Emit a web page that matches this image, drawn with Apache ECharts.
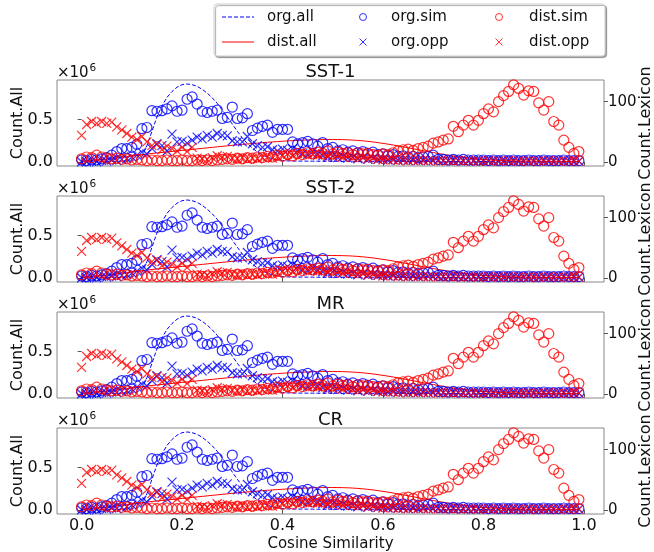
<!DOCTYPE html>
<html><head><meta charset="utf-8">
<script src="https://cdn.jsdelivr.net/npm/echarts@6/dist/echarts.min.js"></script>
<style>html,body{margin:0;padding:0;background:#fff}#c{width:654px;height:552px}</style>
</head><body><div id="c"></div>
<script>
// ---- data ----
const xs = [0.00,0.01,0.02,0.03,0.04,0.05,0.06,0.07,0.08,0.09,
0.10,0.11,0.12,0.13,0.14,0.15,0.16,0.17,0.18,0.19,
0.20,0.21,0.22,0.23,0.24,0.25,0.26,0.27,0.28,0.29,
0.30,0.31,0.32,0.33,0.34,0.35,0.36,0.37,0.38,0.39,
0.40,0.41,0.42,0.43,0.44,0.45,0.46,0.47,0.48,0.49,
0.50,0.51,0.52,0.53,0.54,0.55,0.56,0.57,0.58,0.59,
0.60,0.61,0.62,0.63,0.64,0.65,0.66,0.67,0.68,0.69,
0.70,0.71,0.72,0.73,0.74,0.75,0.76,0.77,0.78,0.79,
0.80,0.81,0.82,0.83,0.84,0.85,0.86,0.87,0.88,0.89,
0.90,0.91,0.92,0.93,0.94,0.95,0.96,0.97,0.98,0.99];

// Count.All (x10^6)
const orgAll = [0.004,0.004,0.004,0.005,0.005,0.005,0.006,0.006,0.007,0.008,
0.01,0.02,0.06,0.19,0.36,0.53,0.66,0.76,0.83,0.88,
0.91,0.918,0.91,0.89,0.855,0.81,0.755,0.69,0.61,0.53,
0.445,0.36,0.28,0.215,0.16,0.115,0.08,0.055,0.035,0.022,
0.014,0.01,0.009,0.008,0.008,0.007,0.007,0.006,0.006,0.006,
0.005,0.005,0.005,0.005,0.005,0.005,0.005,0.005,0.005,0.005,
0.004,0.004,0.004,0.004,0.004,0.004,0.004,0.004,0.004,0.004,
0.004,0.004,0.004,0.004,0.004,0.004,0.004,0.004,0.004,0.004,
0.003,0.003,0.003,0.003,0.003,0.003,0.003,0.003,0.003,0.003,
0.003,0.003,0.003,0.003,0.003,0.003,0.003,0.003,0.003,0.003];

const distAll = [0.005,0.01,0.015,0.02,0.025,0.032,0.04,0.047,0.055,0.062,
0.07,0.077,0.084,0.091,0.098,0.104,0.11,0.116,0.122,0.128,
0.134,0.14,0.146,0.152,0.158,0.164,0.17,0.176,0.182,0.188,
0.194,0.2,0.205,0.21,0.215,0.22,0.225,0.23,0.234,0.238,
0.242,0.246,0.249,0.252,0.255,0.257,0.259,0.261,0.262,0.263,
0.263,0.262,0.261,0.259,0.256,0.252,0.247,0.241,0.234,0.226,
0.217,0.208,0.198,0.187,0.176,0.165,0.154,0.142,0.131,0.12,
0.109,0.098,0.088,0.078,0.069,0.06,0.052,0.045,0.038,0.032,
0.027,0.023,0.019,0.016,0.014,0.012,0.01,0.009,0.008,0.007,
0.007,0.006,0.006,0.005,0.005,0.005,0.004,0.004,0.004,0.004];

// Count.Lexicon
const orgSim = [3,2,4,3,5,7,11,17,22,22,
24,29,55,57,85,84,85,88,93,84,
86,104,108,96,84,82,84,86,72,74,
91,72,73,80,52,56,59,61,49,54,
54,54,33,30,32,34,30,26,32,22,
24,18,20,16,18,15,17,14,16,12,
13,10,12,9,10,8,9,7,8,9,
11,4,4,3,4,3,4,3,3,3,
3,2,3,2,3,2,3,2,2,3,
2,2,3,2,2,2,3,2,2,2];

const orgOpp = [0,0,1,0,2,1,3,2,4,5,
8,11,16,13,22,30,27,18,46,33,
34,31,36,41,38,44,41,47,44,43,
35,33,33,42,30,27,24,25,20,18,
21,19,22,18,14,12,17,13,10,8,
10,7,9,6,8,5,7,4,6,4,
5,3,4,3,3,2,3,2,3,2,
2,3,2,2,3,2,2,1,2,2,
1,2,2,1,2,1,2,1,1,2,
1,1,2,1,1,1,2,1,1,1];

const distSim = [5,8,7,11,8,6,5,6,4,5,
3,4,3,2,3,2,2,3,2,2,
3,2,2,3,2,3,2,3,4,5,
4,6,5,7,6,8,7,9,8,11,
9,12,10,14,12,15,13,16,14,18,
13,16,14,15,12,15,13,14,12,11,
13,12,15,18,20,21,19,22,24,26,
31,33,36,38,59,50,61,69,61,69,
80,88,83,100,110,117,128,122,111,118,
117,98,86,100,67,61,36,24,14,17];

const distOpp = [44,62,67,64,67,64,66,58,53,47,
41,37,42,33,27,29,20,26,22,18,
24,17,24,6,5,4,7,10,8,9,
6,5,7,4,6,5,7,8,6,9,
11,13,10,14,12,15,12,11,13,10,
9,11,8,10,7,6,8,5,6,4,
3,4,3,2,3,2,2,3,2,2,
2,1,2,2,1,2,1,2,1,1,
1,2,1,1,1,2,1,1,1,1,
1,1,1,2,1,1,1,1,1,1];

const panelTitles = ['SST-1','SST-2','MR','CR'];
const xTicks = [0, 0.2, 0.4, 0.6, 0.8, 1.0];
const leftTicks = [0, 0.5];
const rightTicks = [0, 100];

// ---- chart ----
const FONT = '"DejaVu Sans", sans-serif';
const BLUE = '#0000ff', RED = '#ff0000';
const XSYM = 'path://M0,0L10,10M10,0L0,10';
const DASH_ICON = 'path://M0,0h4v1h-4z M6,0h4v1h-4z M12,0h4v1h-4z M18,0h4v1h-4z M24,0h4v1h-4z M30,0h2v1h-2z';
const SOLID_ICON = 'path://M0,0h32v1h-32z';
const tops = [80, 196, 312, 428];
const H = 86;
const pts = arr => xs.map((x, k) => [x, arr[k]]);

const grids = [], xAxes = [], yAxes = [], series = [], graphics = [];
tops.forEach((t, i) => {
  grids.push({left: 57, right: 50, top: t, height: H, show: true, borderColor: '#888', borderWidth: 1,
    backgroundColor: 'transparent', containLabel: false, outerBoundsMode: 'none'});
  xAxes.push({
    type: 'value', gridIndex: i, min: -0.049, max: 1.04,
    axisLine: {show: false}, splitLine: {show: false},
    axisTick: {show: true, customValues: xTicks, length: 4, lineStyle: {color: '#555'}},
    axisLabel: {show: i === 3, customValues: xTicks, formatter: v => v.toFixed(1), fontSize: 16, color: '#111', margin: 4, fontFamily: FONT},
    name: i === 3 ? 'Cosine Similarity' : '', nameLocation: 'middle', nameGap: 23, nameMoveOverlap: false,
    nameTextStyle: {fontSize: 15, color: '#111', fontFamily: FONT}
  });
  yAxes.push({
    type: 'value', gridIndex: i, position: 'left', min: -0.05, max: 0.965,
    axisLine: {show: false}, splitLine: {show: false},
    axisTick: {show: true, customValues: leftTicks, length: 4, lineStyle: {color: '#555'}},
    axisLabel: {customValues: leftTicks, formatter: v => v.toFixed(1), fontSize: 16, color: '#111', margin: 4, fontFamily: FONT},
    name: 'Count.All', nameLocation: 'middle', nameGap: 31, nameRotate: 90, nameMoveOverlap: false,
    nameTextStyle: {fontSize: 16, color: '#111', fontFamily: FONT}
  });
  yAxes.push({
    type: 'value', gridIndex: i, position: 'right', min: -7, max: 136,
    axisLine: {show: false}, splitLine: {show: false},
    axisTick: {show: true, customValues: rightTicks, length: 4, lineStyle: {color: '#555'}},
    axisLabel: {customValues: rightTicks, formatter: v => String(v), fontSize: 15, color: '#111', margin: 4, fontFamily: FONT},
    name: 'Count.Lexicon', nameLocation: 'middle', nameGap: 34, nameRotate: 90, nameMoveOverlap: false,
    nameTextStyle: {fontSize: 16, color: '#111', fontFamily: FONT}
  });
  const L = 2 * i, R = 2 * i + 1;
  series.push({name: 'org.all', type: 'line', xAxisIndex: i, yAxisIndex: L, data: pts(orgAll),
    symbol: 'none', showSymbol: false, lineStyle: {color: BLUE, width: 1, type: [4, 2]}, itemStyle: {color: BLUE}, z: 2});
  series.push({name: 'dist.all', type: 'line', xAxisIndex: i, yAxisIndex: L, data: pts(distAll),
    symbol: 'none', showSymbol: false, lineStyle: {color: RED, width: 1}, itemStyle: {color: RED}, z: 2});
  series.push({name: 'org.sim', type: 'scatter', xAxisIndex: i, yAxisIndex: R, data: pts(orgSim),
    symbol: 'circle', symbolSize: 10, itemStyle: {color: 'rgba(0,0,0,0)', borderColor: BLUE, borderWidth: 1.2}, z: 3});
  series.push({name: 'org.opp', type: 'scatter', xAxisIndex: i, yAxisIndex: R, data: pts(orgOpp),
    symbol: XSYM, symbolSize: 9, itemStyle: {color: 'rgba(0,0,0,0)', borderColor: BLUE, borderWidth: 1.2}, z: 3});
  series.push({name: 'dist.sim', type: 'scatter', xAxisIndex: i, yAxisIndex: R, data: pts(distSim),
    symbol: 'circle', symbolSize: 10, itemStyle: {color: 'rgba(0,0,0,0)', borderColor: RED, borderWidth: 1.2}, z: 3});
  series.push({name: 'dist.opp', type: 'scatter', xAxisIndex: i, yAxisIndex: R, data: pts(distOpp),
    symbol: XSYM, symbolSize: 9, itemStyle: {color: 'rgba(0,0,0,0)', borderColor: RED, borderWidth: 1.2}, z: 3});

  graphics.push({type: 'text', x: 330.5, y: t - 7.5, z: 10,
    style: {text: panelTitles[i], font: '18px ' + FONT, fill: '#111', align: 'center', verticalAlign: 'middle'}});
  graphics.push({type: 'text', x: 57, y: t - 7, z: 10,
    style: {text: '×10', font: '15px ' + FONT, fill: '#111', align: 'left', verticalAlign: 'middle'}});
  graphics.push({type: 'text', x: 89.5, y: t - 12, z: 10,
    style: {text: '6', font: '10.5px ' + FONT, fill: '#111', align: 'left', verticalAlign: 'middle'}});
});

graphics.push({type: 'rect', z: 0, shape: {x: 214, y: 4, width: 391, height: 52, r: 3},
  style: {fill: '#fff', stroke: '#cfcfcf', lineWidth: 1, shadowColor: 'rgba(0,0,0,0.35)', shadowOffsetX: 1.5, shadowOffsetY: 1.5, shadowBlur: 1}});

const legendBase = {orient: 'vertical', top: 8, padding: 0, itemGap: 7, selectedMode: false, z: 20,
  textStyle: {fontSize: 15, color: '#111', fontFamily: FONT, lineHeight: 18}};
const legends = [
  Object.assign({}, legendBase, {data: [{name: 'org.all', icon: DASH_ICON}, {name: 'dist.all', icon: SOLID_ICON}],
    left: 222, itemWidth: 32, itemHeight: 12,
    textStyle: Object.assign({}, legendBase.textStyle, {padding: [0, 0, 0, 8]})}),
  Object.assign({}, legendBase, {data: ['org.sim', 'org.opp'], left: 359, itemWidth: 16, itemHeight: 7,
    itemStyle: {borderWidth: 1},
    textStyle: Object.assign({}, legendBase.textStyle, {padding: [0, 0, 0, 15]})}),
  Object.assign({}, legendBase, {data: ['dist.sim', 'dist.opp'], left: 495, itemWidth: 16, itemHeight: 7,
    itemStyle: {borderWidth: 1},
    textStyle: Object.assign({}, legendBase.textStyle, {padding: [0, 0, 0, 17]})})
];

const chart = echarts.init(document.getElementById('c'));
chart.setOption({
  animation: false,
  backgroundColor: '#fff',
  grid: grids, xAxis: xAxes, yAxis: yAxes, series: series,
  legend: legends, graphic: graphics
});
</script></body></html>
